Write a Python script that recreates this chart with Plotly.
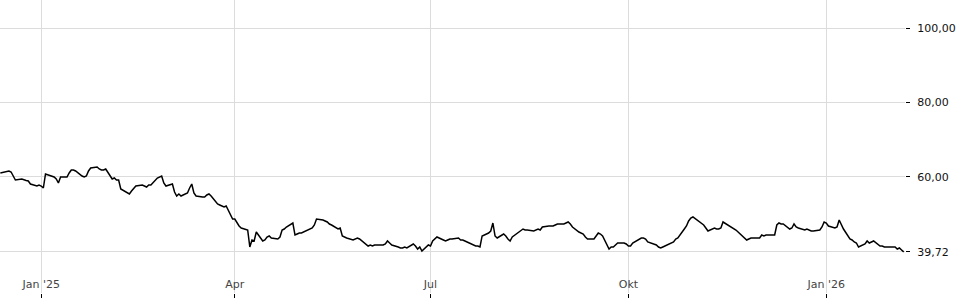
import pandas as pd
import plotly.graph_objects as go

# trading days shown in the chart
dates = pd.bdate_range("2024-12-13", "2026-02-06")

# closing prices (EUR)
prices = [
    61.00, 61.27, 61.54, 61.27, 60.19,
    59.11, 59.38, 59.11, 58.97, 58.84,
    58.03, 57.49, 57.76, 57.49, 56.95,
    60.73, 60.19, 59.92, 59.38, 58.30,
    59.92, 59.92, 61.00, 61.81, 61.81,
    61.54, 60.19, 59.92, 60.19, 61.54,
    62.35, 62.61, 62.08, 61.81, 61.81,
    62.08, 59.38, 59.65, 59.11, 59.11,
    56.68, 55.61, 55.34, 56.15, 56.95,
    57.49, 57.76, 57.49, 57.22, 57.76,
    57.76, 59.65, 59.92, 60.19, 58.30,
    57.49, 58.03, 55.88, 54.80, 55.34,
    54.80, 55.61, 56.95, 58.03, 55.61,
    54.80, 54.53, 54.53, 55.07, 55.34,
    54.80, 52.64, 52.37, 52.10, 51.83,
    52.10, 48.60, 48.60, 47.52, 46.71,
    46.17, 45.63, 41.05, 42.94, 42.67,
    45.09, 42.67, 42.94, 43.75, 44.02,
    43.48, 43.21, 43.75, 45.63, 45.90,
    46.44, 47.52, 44.28, 44.55, 44.82,
    44.82, 45.63, 45.90, 46.17, 46.98,
    48.60, 48.33, 48.06, 47.79, 47.25,
    46.98, 45.90, 46.17, 44.02, 43.75,
    43.48, 42.94, 43.21, 43.48, 43.21,
    42.67, 41.32, 41.59, 41.32, 41.59,
    41.59, 41.59, 41.86, 42.67, 42.13,
    41.59, 41.05, 40.78, 40.78, 41.05,
    40.78, 41.86, 41.32, 40.51, 41.05,
    39.97, 41.59, 41.32, 42.67, 43.21,
    43.75, 42.94, 42.67, 42.94, 43.21,
    43.21, 43.48, 42.94, 42.94, 42.67,
    42.40, 41.59, 41.32, 41.32, 41.05,
    44.02, 44.82, 45.36, 47.52, 44.02,
    43.48, 44.55, 44.02, 43.21, 42.67,
    43.75, 45.09, 45.63, 45.90, 45.63,
    45.63, 45.36, 45.63, 45.90, 45.63,
    46.44, 46.71, 46.71, 46.71, 46.98,
    47.25, 47.25, 47.52, 47.79, 47.25,
    46.44, 45.09, 44.82, 44.55, 43.75,
    43.21, 43.21, 44.02, 44.82, 44.55,
    44.02, 40.51, 41.05, 41.05, 41.59,
    42.13, 42.13, 41.86, 41.32, 41.32,
    42.13, 43.21, 43.48, 43.48, 43.21,
    42.40, 41.86, 41.59, 41.05, 40.78,
    41.05, 41.86, 42.13, 42.40, 43.21,
    43.48, 45.90, 46.71, 48.06, 48.87,
    49.14, 47.79, 47.25, 46.98, 46.17,
    45.36, 46.17, 45.90, 45.90, 46.17,
    47.79, 46.71, 46.44, 45.90, 45.63,
    45.09, 43.48, 42.94, 43.21, 43.48,
    43.48, 43.48, 44.28, 44.02, 44.28,
    44.28, 44.28, 46.98, 47.52, 47.25,
    47.25, 45.90, 46.17, 47.25, 46.44,
    46.17, 45.63, 45.90, 45.63, 45.36,
    45.36, 45.63, 46.44, 47.79, 47.52,
    46.71, 46.17, 46.44, 48.33, 47.25,
    45.90, 43.21, 42.94, 42.40, 42.13,
    41.05, 41.86, 42.67, 42.13, 42.40,
    42.67, 41.32, 41.32, 41.05, 41.05,
    41.05, 41.05, 40.51, 40.78, 40.24,
    39.72,
]
assert len(prices) == len(dates)

x_tick_vals = ["2025-01-01", "2025-04-01", "2025-07-01", "2025-10-01", "2026-01-01"]
x_tick_text = ["Jan '25", "Apr", "Jul", "Okt", "Jan '26"]
y_tick_vals = [39.72, 60, 80, 100]

fig = go.Figure()
fig.add_trace(go.Scatter(
    x=dates, y=prices, mode="lines",
    line=dict(color="#000000", width=1.5),
    hoverinfo="skip", showlegend=False,
))

fig.update_layout(
    width=960, height=300,
    margin=dict(l=0, r=55, t=0, b=7),
    paper_bgcolor="white", plot_bgcolor="white",
    separators=",.",
    font=dict(family="DejaVu Sans", size=11, color="#111111"),
    xaxis=dict(
        range=["2024-12-12 20:19", "2026-02-06 14:24"],
        tickvals=x_tick_vals, ticktext=x_tick_text,
        showgrid=True, gridcolor="#dcdcdc", gridwidth=1,
        ticks="outside", ticklen=4, tickcolor="#000000", tickwidth=1,
        ticklabelposition="inside",
        showline=False, zeroline=False,
    ),
    yaxis=dict(
        side="right",
        range=[28.65, 107.63],
        tickvals=y_tick_vals, tickformat=".2f",
        showgrid=True, gridcolor="#dcdcdc", gridwidth=1,
        ticks="outside", ticklen=4, tickcolor="#000000", tickwidth=1,
        ticklabelstandoff=5,
        showline=False, zeroline=False,
    ),
)

fig.write_html("out.html")
